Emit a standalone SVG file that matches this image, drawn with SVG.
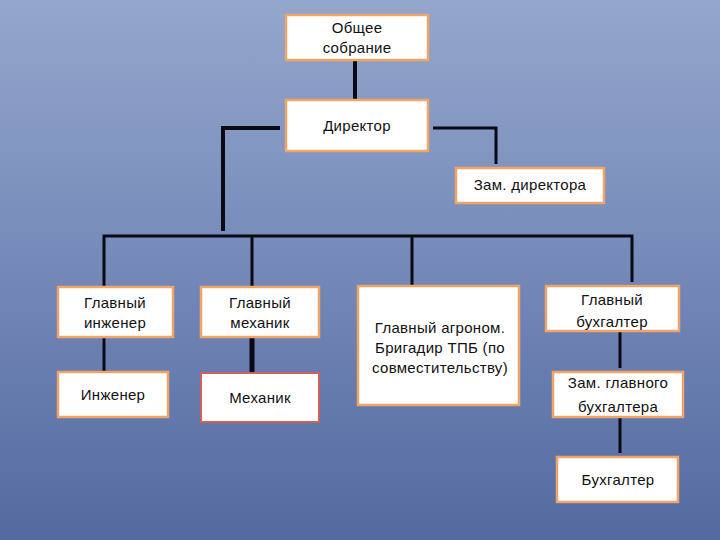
<svg xmlns="http://www.w3.org/2000/svg" width="720" height="540" viewBox="0 0 720 540">
<defs>
<linearGradient id="bg" x1="0" y1="0" x2="0" y2="1">
<stop offset="0" stop-color="#93a7cc"/>
<stop offset="0.5" stop-color="#7489b8"/>
<stop offset="1" stop-color="#54699f"/>
</linearGradient>
<filter id="glow" x="-10%" y="-20%" width="120%" height="140%">
<feGaussianBlur stdDeviation="1.2"/>
</filter>
</defs>
<style>
.box{fill:#ffffff;stroke:#f0a468;stroke-width:2.5}
.boxr{fill:#ffffff;stroke:#d0605a;stroke-width:2}
.t{font-family:"Liberation Sans","DejaVu Sans",sans-serif;font-size:15px;fill:#111;text-anchor:middle;letter-spacing:0.3px}
.c{stroke:#0a0a14;fill:none;stroke-linecap:butt}
.w4{stroke-width:4}
.w3{stroke-width:3}
</style>
<rect x="0" y="0" width="720" height="540" fill="url(#bg)"/>
<g id="connectors">
<line class="c w4" x1="355" y1="60" x2="355" y2="100"/>
<polyline class="c w4" points="280,128 223,128 223,231"/>
<polyline class="c w3" points="433,128 496,128 496,164"/>
<polyline class="c w3" points="104,286 104,236 632,236 632,282"/>
<line class="c w3" x1="252" y1="236" x2="252" y2="286"/>
<line class="c w3" x1="412" y1="236" x2="412" y2="285"/>
<line class="c w3" x1="104" y1="337" x2="104" y2="372"/>
<line class="c" stroke-width="5" x1="252" y1="337" x2="252" y2="373"/>
<line class="c w3" x1="620" y1="331" x2="620" y2="368"/>
<line class="c w3" x1="620" y1="417" x2="620" y2="453"/>
</g>
<g id="obshchee">
<rect class="box" x="286" y="15" width="142" height="45"/>
<text class="t" x="357" y="33">Общее</text>
<text class="t" x="357" y="53">собрание</text>
</g>
<g id="direktor">
<rect class="box" x="286" y="100" width="142" height="51"/>
<text class="t" x="357" y="131">Директор</text>
</g>
<g id="zam-direktora">
<rect class="box" x="456" y="168" width="148" height="35"/>
<text class="t" x="530" y="190">Зам. директора</text>
</g>
<g id="gl-inzhener">
<rect class="box" x="58" y="287" width="115" height="50"/>
<text class="t" x="115" y="308">Главный</text>
<text class="t" x="115" y="328">инженер</text>
</g>
<g id="gl-mekhanik">
<rect class="box" x="201" y="287" width="118" height="50"/>
<text class="t" x="260" y="308">Главный</text>
<text class="t" x="260" y="328">механик</text>
</g>
<g id="inzhener">
<rect class="box" x="58" y="372" width="110" height="45"/>
<text class="t" x="113" y="400">Инженер</text>
</g>
<g id="mekhanik">
<rect class="boxr" x="201" y="373" width="118" height="49"/>
<text class="t" x="260" y="403">Механик</text>
</g>
<g id="agronom">
<rect class="box" x="358" y="286" width="161" height="119"/>
<text class="t" x="440" y="333">Главный агроном.</text>
<text class="t" x="440" y="353">Бригадир ТПБ (по</text>
<text class="t" x="440" y="373">совместительству)</text>
</g>
<g id="gl-bukhgalter">
<rect class="box" x="546" y="286" width="133" height="45"/>
<text class="t" x="612" y="305">Главный</text>
<text class="t" x="612" y="327">бухгалтер</text>
</g>
<g id="zam-gl-bukhgaltera">
<rect class="box" x="553" y="372" width="130" height="45"/>
<text class="t" x="618" y="388">Зам. главного</text>
<text class="t" x="618" y="412">бухгалтера</text>
</g>
<g id="bukhgalter">
<rect class="box" x="557" y="457" width="121" height="45"/>
<text class="t" x="618" y="485">Бухгалтер</text>
</g>
</svg>
